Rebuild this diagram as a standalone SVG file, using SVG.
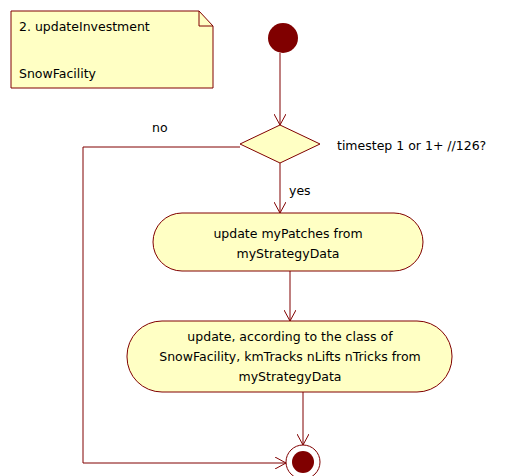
<svg xmlns="http://www.w3.org/2000/svg" width="524" height="476" viewBox="0 0 524 476">
<defs>
<style>
.t{font-family:Tahoma,"DejaVu Sans","Liberation Sans",sans-serif;font-size:12.5px;fill:#000}
.fill{fill:#ffffc4;stroke:#800000;stroke-width:1}
.c{fill:none;stroke:#800000;stroke-width:1}
</style>
<marker id="ah" viewBox="0 0 12 12" refX="11" refY="6" markerWidth="12" markerHeight="12" orient="auto" markerUnits="userSpaceOnUse">
<path d="M0,0 L11,6 L0,12" fill="none" stroke="#800000" stroke-width="1"/>
</marker>
</defs>
<rect width="524" height="476" fill="#fff"/>
<g id="note">
<path class="fill" d="M11,11 H199 L213,26 V88 H11 Z"/>
<path class="c" d="M199,11 V26 H213"/>
<text class="t" x="19" y="31">2. updateInvestment</text>
<text class="t" x="19" y="78">SnowFacility</text>
</g>
<g id="start"><circle cx="283" cy="38" r="15" fill="#800000"/></g>
<g id="decision">
<polygon class="fill" points="280,125 320,144 280,163 240,144"/>
<text class="t" x="337" y="150">timestep 1 or 1+ //126?</text>
</g>
<g id="act1">
<rect class="fill" x="153" y="213" width="270" height="58" rx="29"/>
<text class="t" text-anchor="middle" x="288" y="238">update myPatches from</text>
<text class="t" text-anchor="middle" x="288" y="258">myStrategyData</text>
</g>
<g id="act2">
<rect class="fill" x="127" y="321" width="325" height="71" rx="35"/>
<text class="t" text-anchor="middle" x="290" y="341">update, according to the class of</text>
<text class="t" text-anchor="middle" x="290" y="361">SnowFacility, kmTracks nLifts nTricks from</text>
<text class="t" text-anchor="middle" x="290" y="381">myStrategyData</text>
</g>
<g id="end">
<circle cx="303" cy="462" r="17" fill="#fff" stroke="#800000"/>
<circle cx="303" cy="462" r="11" fill="#800000"/>
</g>
<g id="connectors">
<path class="c" d="M280,53 V125" marker-end="url(#ah)"/>
<path class="c" d="M280,163 V213" marker-end="url(#ah)"/>
<text class="t" x="289" y="195">yes</text>
<path class="c" d="M290,271 V321" marker-end="url(#ah)"/>
<path class="c" d="M303,392 V445" marker-end="url(#ah)"/>
<path class="c" d="M240,147 H83 V463 H286" marker-end="url(#ah)"/>
<text class="t" x="152" y="132">no</text>
</g>
</svg>
